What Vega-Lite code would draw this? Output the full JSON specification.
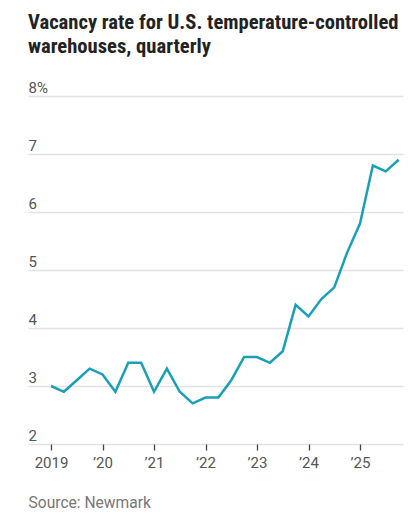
{
  "$schema": "https://vega.github.io/schema/vega-lite/v6.json",
  "width": 375,
  "height": 348,
  "autosize": {"type": "none"},
  "padding": {"left": 28, "top": 96, "right": 17, "bottom": 73},
  "background": "#ffffff",
  "title": {
    "text": ["Vacancy rate for U.S. temperature-controlled", "warehouses, quarterly"],
    "anchor": "start",
    "frame": "group",
    "font": "Liberation Sans Narrow, Roboto Condensed, Roboto",
    "fontSize": 20.6,
    "fontWeight": "bold",
    "color": "#222222",
    "lineHeight": 24,
    "offset": 22
  },
  "data": {
    "values": [
      {"t": 2019.0, "rate": 3.0},
      {"t": 2019.25, "rate": 2.9},
      {"t": 2019.5, "rate": 3.1},
      {"t": 2019.75, "rate": 3.3},
      {"t": 2020.0, "rate": 3.2},
      {"t": 2020.25, "rate": 2.9},
      {"t": 2020.5, "rate": 3.4},
      {"t": 2020.75, "rate": 3.4},
      {"t": 2021.0, "rate": 2.9},
      {"t": 2021.25, "rate": 3.3},
      {"t": 2021.5, "rate": 2.9},
      {"t": 2021.75, "rate": 2.7},
      {"t": 2022.0, "rate": 2.8},
      {"t": 2022.25, "rate": 2.8},
      {"t": 2022.5, "rate": 3.1},
      {"t": 2022.75, "rate": 3.5},
      {"t": 2023.0, "rate": 3.5},
      {"t": 2023.25, "rate": 3.4},
      {"t": 2023.5, "rate": 3.6},
      {"t": 2023.75, "rate": 4.4},
      {"t": 2024.0, "rate": 4.2},
      {"t": 2024.25, "rate": 4.5},
      {"t": 2024.5, "rate": 4.7},
      {"t": 2024.75, "rate": 5.3},
      {"t": 2025.0, "rate": 5.8},
      {"t": 2025.25, "rate": 6.8},
      {"t": 2025.5, "rate": 6.7},
      {"t": 2025.75, "rate": 6.9}
    ]
  },
  "mark": {"type": "line", "color": "#1aa0b6", "strokeWidth": 2.5, "strokeJoin": "miter"},
  "encoding": {
    "x": {
      "field": "t",
      "type": "quantitative",
      "scale": {"domain": [2018.553, 2025.835], "nice": false, "zero": false},
      "axis": {
        "values": [2019, 2019.25, 2019.5, 2019.75, 2020, 2020.25, 2020.5, 2020.75, 2021, 2021.25, 2021.5, 2021.75, 2022, 2022.25, 2022.5, 2022.75, 2023, 2023.25, 2023.5, 2023.75, 2024, 2024.25, 2024.5, 2024.75, 2025, 2025.25, 2025.5, 2025.75],
        "format": "d",
        "labelExpr": "datum.value == 2019 ? '2019' : (datum.value % 1 == 0 ? '\u2019' + slice(datum.label, 2) : '')",
        "labelOverlap": false,
        "labelFont": "Roboto",
        "labelFontSize": 15,
        "labelColor": "#555555",
        "labelPadding": 5,
        "labelBaseline": "top",
        "grid": false,
        "domain": false,
        "ticks": true,
        "tickColor": "#444444",
        "tickWidth": 1.3,
        "tickSize": {"condition": {"test": "datum.value % 1 == 0", "value": 6}, "value": 3},
        "title": "Source: Newmark",
        "titleFont": "Roboto",
        "titleFontSize": 15.6,
        "titleFontWeight": "normal",
        "titleColor": "#777777",
        "titleAnchor": "start",
        "titleAlign": "left",
        "titleBaseline": "alphabetic",
        "titleX": 0,
        "titleY": 63
      }
    },
    "y": {
      "field": "rate",
      "type": "quantitative",
      "scale": {"domain": [2, 8], "nice": false, "zero": false},
      "axis": {
        "values": [2, 3, 4, 5, 6, 7, 8],
        "labelExpr": "datum.value == 8 ? '8%' : datum.label",
        "labelFont": "Roboto",
        "labelFontSize": 15,
        "labelColor": "#555555",
        "labelAlign": "left",
        "labelBaseline": "alphabetic",
        "labelPadding": 0,
        "labelOffset": -4,
        "ticks": false,
        "tickSize": 0,
        "domain": false,
        "grid": true,
        "gridColor": "#e2e2e2",
        "gridWidth": 1.5,
        "title": null
      }
    }
  },
  "config": {"view": {"stroke": null}}
}
